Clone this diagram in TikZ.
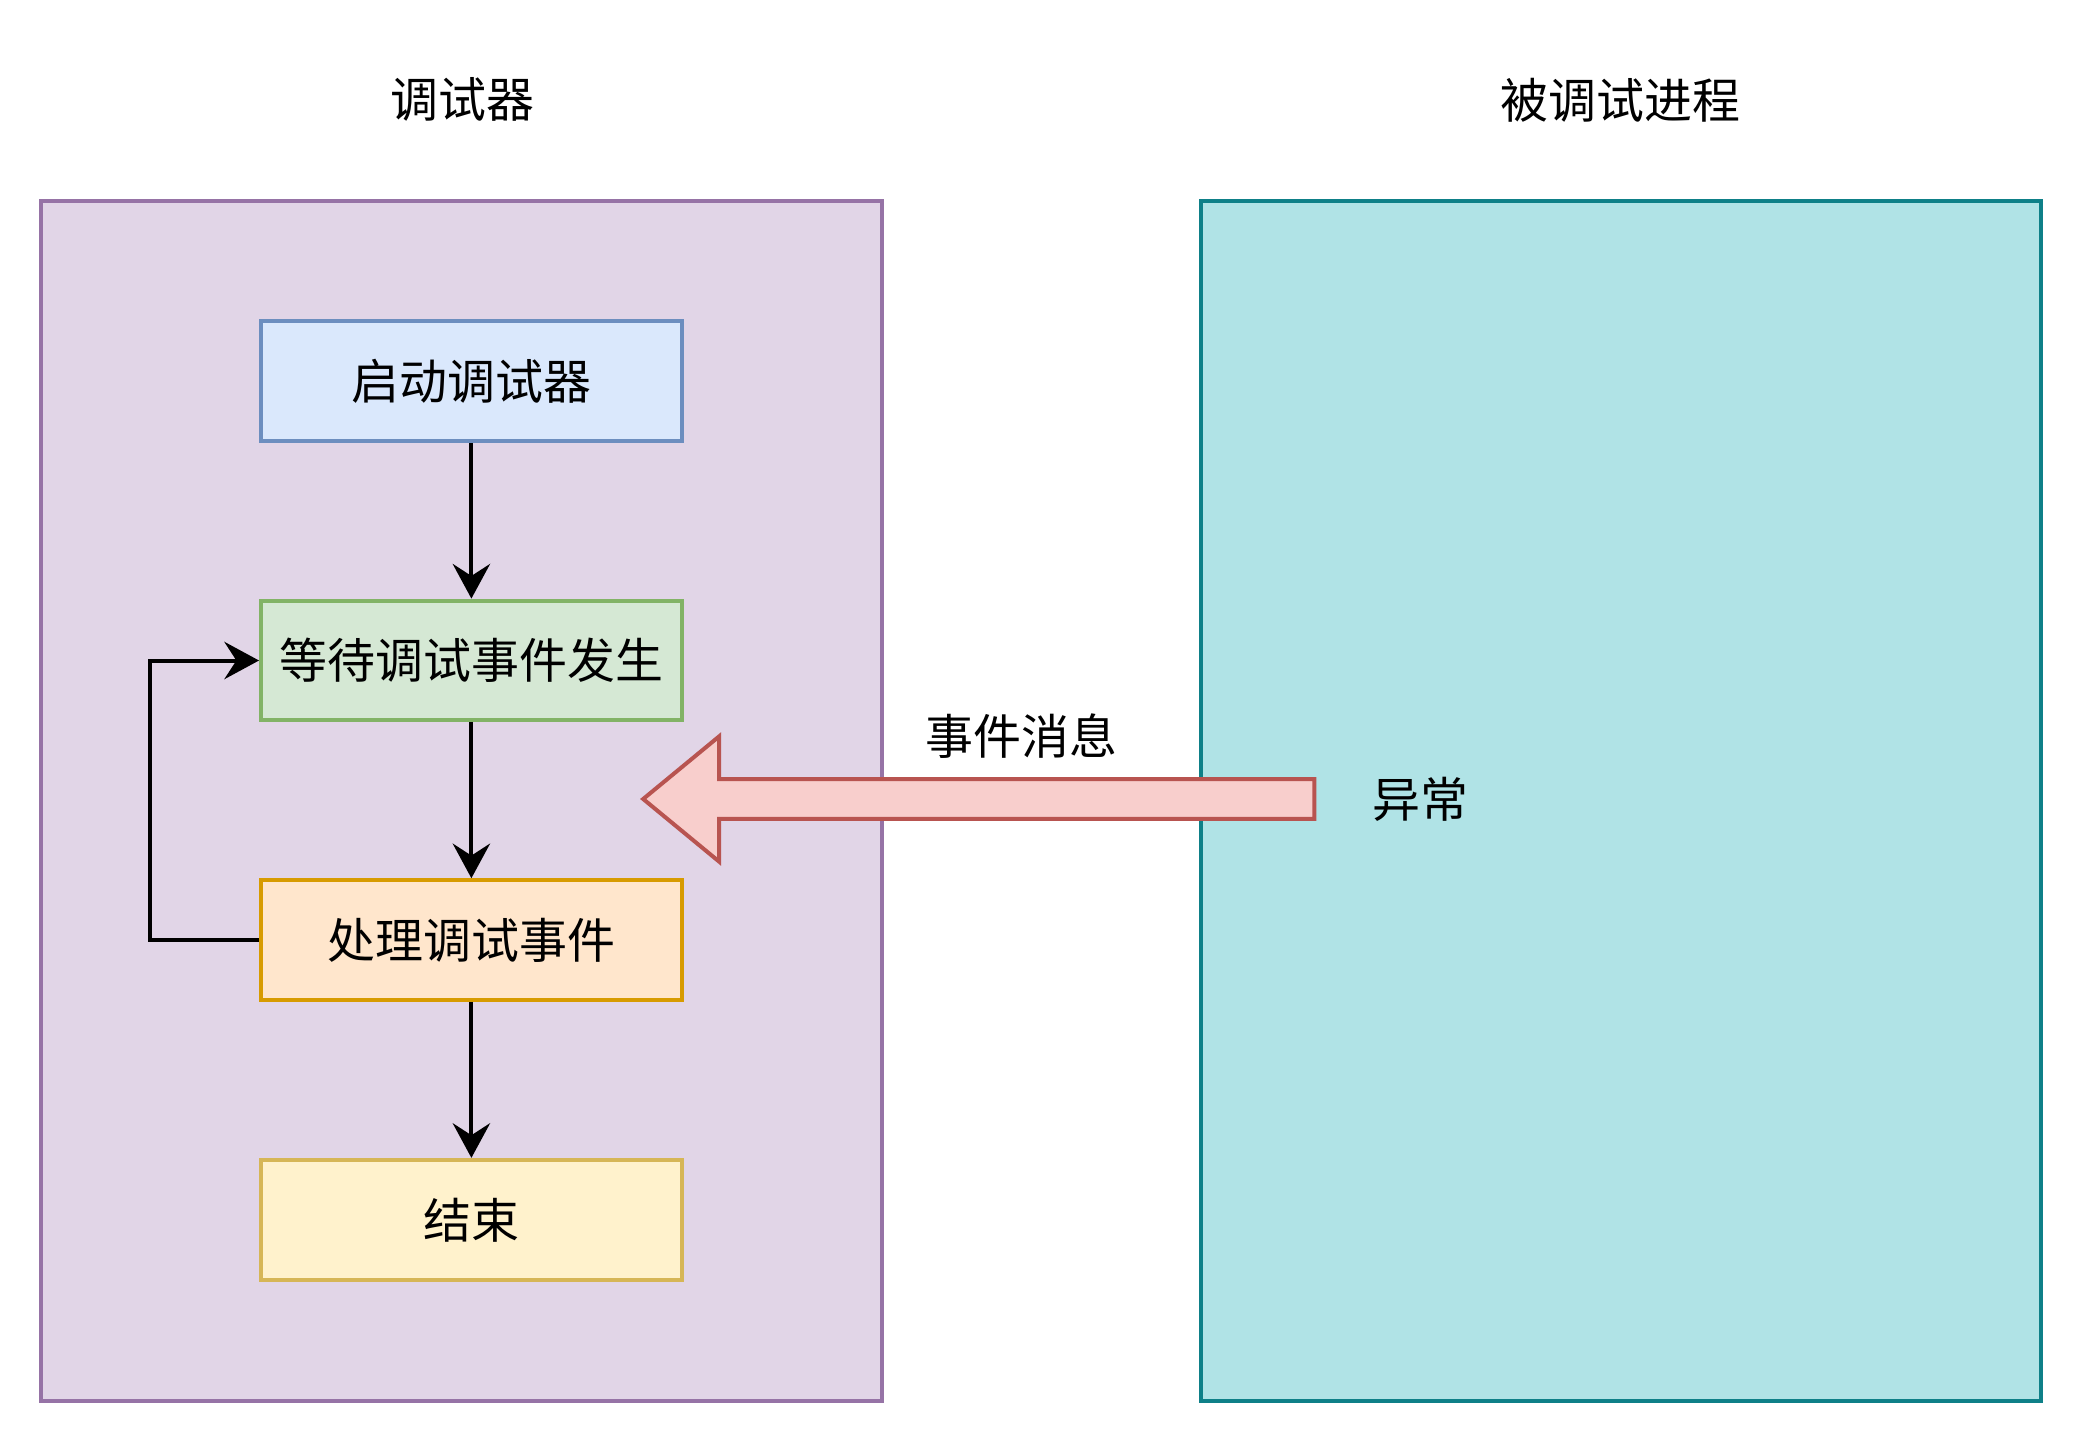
\documentclass[tikz,border=0pt]{standalone}
\usepackage{fontspec}
\setmainfont{Noto Sans CJK SC}
\usepackage{xcolor}
\usepackage{tikz}
\usetikzlibrary{arrows.meta,
                positioning}
\definecolor{panelpurple}{HTML}{E1D5E7}
\definecolor{panelpurpleline}{HTML}{9673A6}
\definecolor{panelteal}{HTML}{B0E3E6}
\definecolor{paneltealline}{HTML}{0E8088}
\definecolor{stepblue}{HTML}{DAE8FC}
\definecolor{stepblueline}{HTML}{6C8EBF}
\definecolor{stepgreen}{HTML}{D5E8D4}
\definecolor{stepgreenline}{HTML}{82B366}
\definecolor{steporange}{HTML}{FFE6CC}
\definecolor{steporangeline}{HTML}{D79B00}
\definecolor{stepyellow}{HTML}{FFF2CC}
\definecolor{stepyellowline}{HTML}{D6B656}
\definecolor{msgred}{HTML}{F8CECC}
\definecolor{msgredline}{HTML}{B85450}
\tikzstyle{arrow} = [line width=1.5pt,-{Stealth[length=13pt,width=14pt,inset=4.5pt]}]
\tikzstyle{panel} = [rectangle, line width=1.5pt, minimum width=315.5pt, minimum height=450.5pt]
\tikzstyle{stepbox} = [rectangle, line width=1.5pt, minimum width=158pt, minimum height=45pt]
\tikzstyle{msgarrow} = [fill=msgred, draw=msgredline, line width=1.5pt]

\begin{document}
\begin{tikzpicture}[x=0.5pt, y=-0.5pt, font=\fontsize{18}{22}\selectfont]
    \useasboundingbox (0,0) rectangle (1568,1084);

    % the two sides
    \node[panel, fill=panelpurple, draw=panelpurpleline] (dbg) at (346.5,601.5) {};
    \node[panel, fill=panelteal, draw=paneltealline] (proc) at (1217.5,601.5) {};
    \node (dbgtitle) at (347,75) {调试器};
    \node (proctitle) at (1217,75) {被调试进程};

    % debugger steps
    \node[stepbox, fill=stepblue, draw=stepblueline] (start) at (354,286) {启动调试器};
    \node[stepbox, fill=stepgreen, draw=stepgreenline] (wait) [below = 58.5pt of start] {等待调试事件发生};
    \node[stepbox, fill=steporange, draw=steporangeline] (handle) [below = 58.5pt of wait] {处理调试事件};
    \node[stepbox, fill=stepyellow, draw=stepyellowline] (finish) [below = 58.5pt of handle] {结束};

    \draw [arrow] (start) -- (wait);
    \draw [arrow] (wait) -- (handle);
    \draw [arrow] (handle) -- (finish);
    \draw [arrow] (handle.west) -- ++(-82,0) |- (wait.west);

    % event message
    \coordinate (msgtip) at (483,600);
    \draw [msgarrow] (msgtip) -- ++(57,-47) -- ++(0,32) -- ++(447,0) -- ++(0,30)
        -- ++(-447,0) -- ++(0,32) -- cycle;
    \node (msglabel) at (767,553) {事件消息};
    \node (exclabel) at (1067,600) {异常};
\end{tikzpicture}
\end{document}
